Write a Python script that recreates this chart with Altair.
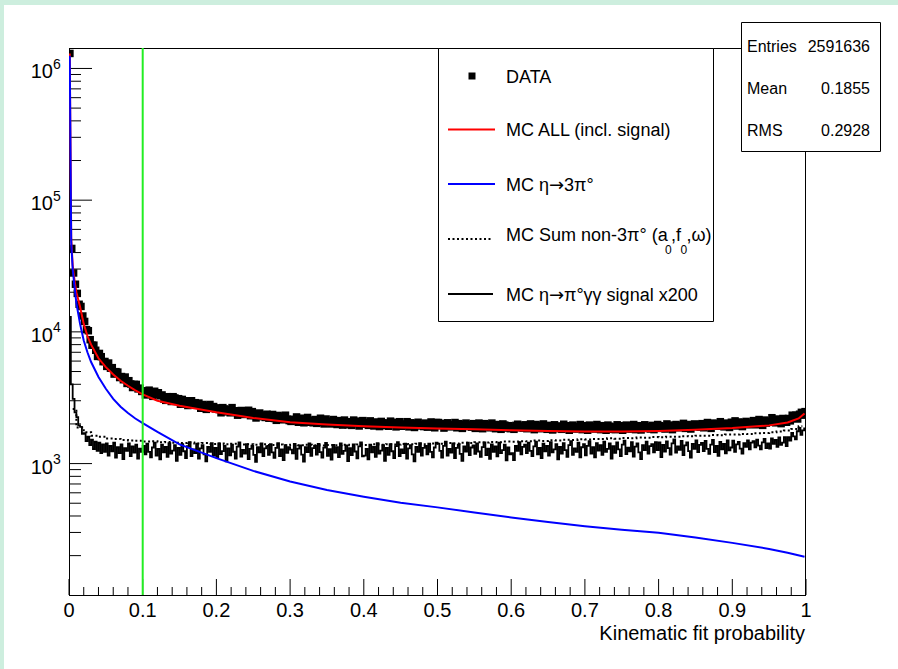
import altair as alt
import numpy as np
import pandas as pd

FONT = "Liberation Sans"

# ---------------- values ----------------
N_FINE = 400     # bins used for DATA and for the x200 signal
N_COARSE = 100   # bins used for the non-3pi0 sum

DATA_COUNTS = [
    1300000, 43000, 28000, 23000, 19600, 16200, 15600, 13200, 12000, 10400,
    10200, 8720, 7920, 7930, 7250, 6510, 6860, 6480, 5940, 5960,
    5470, 5800, 5300, 5350, 4780, 4990, 4950, 4500, 4580, 4330,
    4540, 4060, 4260, 4020, 3780, 3990, 3990, 3690, 3740, 3530,
    3570, 3320, 3480, 3610, 3360, 3240, 3540, 3360, 3450, 3270,
    3320, 3090, 3020, 3220, 3120, 2960, 3220, 3150, 2990, 3110,
    2820, 3070, 2890, 3000, 2760, 2950, 3000, 2790, 2900, 2810,
    2880, 2630, 2810, 2690, 2580, 2760, 2810, 2640, 2710, 2600,
    2650, 2570, 2430, 2660, 2600, 2470, 2570, 2430, 2660, 2500,
    2520, 2330, 2490, 2530, 2360, 2450, 2370, 2540, 2310, 2480,
    2320, 2220, 2380, 2420, 2270, 2340, 2240, 2370, 2210, 2320,
    2360, 2200, 2130, 2320, 2210, 2270, 2150, 2330, 2170, 2120,
    2090, 2170, 2110, 2260, 2060, 2210, 2130, 2040, 2190, 2240,
    2060, 2120, 2040, 2160, 2020, 2120, 2210, 2060, 2000, 2180,
    2040, 2100, 2000, 2160, 2020, 1980, 2120, 2060, 1960, 2140,
    2080, 1970, 2060, 1950, 2140, 2010, 2100, 1930, 2080, 2120,
    1990, 2050, 1950, 2110, 1970, 1930, 2070, 2010, 1910, 2090,
    2040, 1940, 2020, 1920, 2100, 1980, 2060, 1900, 2040, 2080,
    1920, 2000, 1940, 2080, 1900, 2040, 1960, 1880, 2020, 2060,
    1930, 1990, 1910, 2030, 1890, 1990, 2070, 1930, 1870, 2050,
    2050, 1940, 2020, 1860, 2000, 2040, 1900, 1970, 1920, 2050,
    1870, 2010, 1930, 1850, 1990, 2030, 1910, 1970, 1890, 2010,
    1850, 1950, 2030, 1890, 1840, 2010, 1910, 1970, 1870, 2030,
    1880, 1840, 1980, 1920, 1820, 2000, 1960, 1860, 1940, 1840,
    1890, 1820, 1950, 1990, 1870, 1930, 1860, 1970, 1840, 1930,
    2000, 1860, 1810, 1980, 1880, 1940, 1840, 2000, 1860, 1820,
    1950, 1890, 1800, 1970, 1930, 1840, 1910, 1820, 1990, 1870,
    1940, 1790, 1930, 1960, 1830, 1910, 1850, 1980, 1810, 1940,
    1850, 1790, 1960, 1860, 1920, 1830, 1980, 1850, 1810, 1940,
    1880, 1790, 1960, 1920, 1820, 1900, 1810, 1970, 1860, 1940,
    1790, 1920, 1960, 1830, 1900, 1840, 1980, 1810, 1940, 1860,
    1800, 1930, 1970, 1850, 1910, 1830, 1950, 1810, 1910, 1980,
    1940, 1850, 1920, 1830, 2000, 1890, 1960, 1810, 1940, 1980,
    1870, 1940, 1890, 2020, 1850, 1980, 1910, 1830, 1960, 2000,
    1910, 1970, 1890, 2010, 1870, 1970, 2050, 1910, 1850, 2030,
    1960, 2010, 1920, 2080, 1940, 1900, 2030, 1980, 1880, 2060,
    1970, 2110, 1930, 2070, 1990, 1910, 2050, 2090, 1970, 2030,
    1990, 2120, 1970, 2080, 2160, 2010, 1950, 2140, 2030, 2100,
    2060, 2230, 2080, 2040, 2180, 2120, 2010, 2200, 2160, 2060,
    2200, 2110, 2330, 2220, 2330, 2180, 2370, 2450, 2330, 2480,
]

SIGNAL_X200 = [
    13000, 4000, 3100, 2450, 2250, 1950, 1900, 1680, 1700, 1480,
    1600, 1380, 1520, 1290, 1470, 1250, 1440, 1200, 1400, 1230,
    1420, 1150, 1360, 1240, 1440, 1110, 1330, 1200, 1400, 1080,
    1310, 1250, 1420, 1140, 1350, 1210, 1390, 1090, 1300, 1230,
    1365, 1175, 1415, 1225, 1115, 1325, 1440, 1150, 1290, 1075,
    1390, 1215, 1340, 1125, 1430, 1190, 1255, 1380, 1050, 1315,
    1165, 1405, 1240, 1100, 1355, 1455, 1140, 1280, 1200, 1415,
    1090, 1305, 1380, 1175, 1040, 1340, 1225, 1430, 1150, 1315,
    1115, 1420, 1180, 1245, 1370, 1040, 1305, 1155, 1395, 1230,
    1090, 1345, 1445, 1130, 1270, 1190, 1405, 1080, 1295, 1370,
    1165, 1030, 1330, 1215, 1420, 1140, 1305, 1355, 1165, 1405,
    1215, 1105, 1315, 1430, 1140, 1280, 1065, 1380, 1205, 1330,
    1275, 1195, 1410, 1085, 1300, 1375, 1170, 1035, 1335, 1220,
    1425, 1145, 1310, 1360, 1170, 1410, 1220, 1110, 1320, 1435,
    1145, 1285, 1070, 1385, 1210, 1335, 1120, 1425, 1185, 1250,
    1375, 1045, 1310, 1160, 1400, 1235, 1095, 1350, 1450, 1135,
    1150, 1290, 1075, 1390, 1215, 1340, 1125, 1430, 1190, 1255,
    1380, 1050, 1315, 1165, 1405, 1240, 1100, 1355, 1455, 1140,
    1280, 1200, 1415, 1090, 1305, 1380, 1175, 1040, 1340, 1225,
    1430, 1150, 1315, 1365, 1175, 1415, 1225, 1115, 1325, 1440,
    1415, 1250, 1110, 1365, 1465, 1150, 1290, 1210, 1425, 1100,
    1315, 1390, 1185, 1050, 1350, 1235, 1440, 1160, 1325, 1375,
    1185, 1425, 1235, 1125, 1335, 1450, 1160, 1300, 1085, 1400,
    1225, 1350, 1135, 1440, 1200, 1265, 1390, 1060, 1325, 1175,
    1200, 1065, 1365, 1250, 1455, 1175, 1340, 1390, 1200, 1440,
    1250, 1140, 1350, 1465, 1175, 1315, 1100, 1415, 1240, 1365,
    1150, 1455, 1215, 1280, 1405, 1075, 1340, 1190, 1430, 1265,
    1125, 1380, 1480, 1165, 1305, 1225, 1440, 1115, 1330, 1405,
    1155, 1365, 1480, 1190, 1330, 1115, 1430, 1255, 1380, 1165,
    1470, 1230, 1295, 1420, 1090, 1355, 1205, 1445, 1280, 1140,
    1395, 1495, 1180, 1320, 1240, 1455, 1130, 1345, 1420, 1215,
    1080, 1380, 1265, 1470, 1190, 1355, 1405, 1215, 1455, 1265,
    1450, 1120, 1385, 1235, 1475, 1310, 1170, 1425, 1525, 1210,
    1350, 1270, 1485, 1160, 1375, 1450, 1245, 1110, 1410, 1295,
    1500, 1220, 1385, 1435, 1245, 1485, 1295, 1185, 1395, 1510,
    1220, 1360, 1145, 1460, 1285, 1410, 1195, 1500, 1260, 1325,
    1490, 1230, 1400, 1460, 1300, 1190, 1430, 1340, 1500, 1280,
    1440, 1480, 1330, 1520, 1370, 1280, 1450, 1540, 1310, 1420,
    1300, 1550, 1410, 1510, 1340, 1580, 1390, 1440, 1590, 1355,
    1590, 1495, 1710, 1610, 1530, 1760, 1870, 1650, 1790, 1850,
]

NON3PI_SUM = [
    2600, 1880, 1730, 1630, 1600, 1550, 1540, 1510, 1500, 1490,
    1470, 1480, 1450, 1460, 1440, 1430, 1445, 1420, 1430, 1410,
    1420, 1400, 1415, 1395, 1405, 1390, 1400, 1385, 1395, 1380,
    1390, 1375, 1390, 1380, 1370, 1385, 1375, 1390, 1380, 1395,
    1385, 1400, 1390, 1405, 1395, 1410, 1400, 1415, 1405, 1420,
    1415, 1430, 1420, 1440, 1430, 1450, 1445, 1460, 1455, 1470,
    1465, 1480, 1475, 1495, 1485, 1505, 1500, 1515, 1510, 1530,
    1525, 1540, 1535, 1555, 1545, 1565, 1560, 1575, 1570, 1590,
    1585, 1600, 1595, 1615, 1610, 1630, 1625, 1645, 1640, 1660,
    1660, 1680, 1675, 1700, 1710, 1730, 1750, 1780, 1830, 1920,
]

MC_ALL_X = [0.001, 0.003, 0.005, 0.0075, 0.01, 0.015, 0.02, 0.025, 0.03, 0.04,
            0.05, 0.06, 0.07, 0.08, 0.09, 0.1, 0.12, 0.15, 0.2, 0.25, 0.3,
            0.35, 0.4, 0.45, 0.5, 0.55, 0.6, 0.65, 0.7, 0.75, 0.8, 0.85, 0.9,
            0.95, 0.975, 0.99, 0.998]
MC_ALL_Y = [1300000, 51000, 32000, 24500, 20000, 15500, 11500, 9300, 8000, 6300,
            5400, 4750, 4250, 3900, 3600, 3350, 3000, 2750, 2450, 2220, 2060,
            1980, 1920, 1880, 1850, 1820, 1790, 1765, 1750, 1750, 1770, 1805, 1860,
            1950, 2050, 2200, 2400]

ETA3PI_X = [0.001, 0.003, 0.005, 0.0075, 0.01, 0.015, 0.02, 0.025, 0.03, 0.04,
            0.05, 0.06, 0.07, 0.08, 0.09, 0.1, 0.12, 0.15, 0.2, 0.25, 0.3,
            0.35, 0.4, 0.45, 0.5, 0.55, 0.6, 0.65, 0.7, 0.75, 0.8, 0.85, 0.9,
            0.95, 0.975, 0.998]
ETA3PI_Y = [1250000, 48000, 30000, 22000, 16500, 11500, 8600, 7000, 5900, 4550,
            3700, 3100, 2700, 2420, 2200, 2030, 1740, 1400, 1100, 880, 730,
            630, 560, 505, 465, 425, 390, 360, 335, 315, 298, 275, 250,
            225, 210, 196]

CUT_X = [0.1]

Y_MAJOR = [1e3, 1e4, 1e5, 1e6]
Y_EXP = ["3", "4", "5", "6"]
Y_MINOR = [200, 300, 400, 500, 600, 700, 800, 900,
           2000, 3000, 4000, 5000, 6000, 7000, 8000, 9000,
           20000, 30000, 40000, 50000, 60000, 70000, 80000, 90000,
           200000, 300000, 400000, 500000, 600000, 700000, 800000, 900000]
X_MAJOR = [0.0, 0.1, 0.2, 0.3, 0.4, 0.5, 0.6, 0.7, 0.8, 0.9, 1.0]
X_LABELS = ["0", "0.1", "0.2", "0.3", "0.4", "0.5", "0.6", "0.7", "0.8", "0.9", "1"]
X_MINOR = [round(0.02 * k, 2) for k in range(51) if k % 5 != 0]

X_TITLE = "Kinematic fit probability"
LEG_DATA = "DATA"
LEG_ALL = "MC ALL (incl. signal)"
LEG_ETA_HEAD = "MC η"
LEG_ARROW = "→"
LEG_3PI_TAIL = "3π°"
LEG_NON_A = "MC Sum non-3π° (a"
LEG_NON_SUB = "0"
LEG_NON_B = ",f"
LEG_NON_C = ",ω)"
LEG_SIG_TAIL = "π°γγ signal x200"
STATS_NAMES = ["Entries", "Mean", "RMS"]
STATS_VALUES = ["2591636", "0.1855", "0.2928"]

# ---------------- tables ----------------
fine_x = (np.arange(N_FINE) + 0.5) / N_FINE
coarse_x = (np.arange(N_COARSE) + 0.5) / N_COARSE
df_data = pd.DataFrame({"x": fine_x, "y": DATA_COUNTS})
df_sig = pd.DataFrame({"x": fine_x, "y": SIGNAL_X200})
df_non = pd.DataFrame({"x": coarse_x, "y": NON3PI_SUM})
df_all = pd.DataFrame({"x": MC_ALL_X, "y": MC_ALL_Y})
df_eta = pd.DataFrame({"x": ETA3PI_X, "y": ETA3PI_Y})
df_cut = pd.DataFrame({"v": CUT_X})
df_ymaj = pd.DataFrame({"v": Y_MAJOR, "e": Y_EXP})
df_ymin = pd.DataFrame({"v": Y_MINOR})
df_xmaj = pd.DataFrame({"v": X_MAJOR, "t": X_LABELS})
df_xmin = pd.DataFrame({"v": X_MINOR})
ONE = pd.DataFrame({"k": [0]})

W, H = 737, 547
xs = alt.Scale(domain=[0, 1], nice=False, zero=False)
ys = alt.Scale(type="log", domain=[100.5, 1.43e6], nice=False)


def X(f="x"):
    return alt.X(f"{f}:Q", scale=xs, axis=None)


def Y(f="y"):
    return alt.Y(f"{f}:Q", scale=ys, axis=None)


def seg(x1, x2, y1, y2, color="black", width=1, dash=None):
    kw = dict(color=color, strokeWidth=width)
    if dash is not None:
        kw["strokeDash"] = dash
    return alt.Chart(ONE).mark_rule(**kw).encode(
        x=alt.value(x1), x2=alt.value(x2), y=alt.value(y1), y2=alt.value(y2))


def txt(s, x, y, size, align="left", baseline="middle", font=FONT):
    return alt.Chart(ONE).mark_text(text=s, font=font, fontSize=size, align=align,
                                    baseline=baseline, color="black").encode(
        x=alt.value(x), y=alt.value(y))


layers = []
# white canvas inside the mint page border
layers.append(alt.Chart(ONE).mark_rect(color="white").encode(
    x=alt.value(-65), x2=alt.value(829), y=alt.value(-43), y2=alt.value(621)))

# frame and axes
layers.append(seg(0.5, 0.5, 0, 547.5))
layers.append(seg(0, 737, 547.5, 547.5))
layers.append(seg(0, 672, 0.5, 0.5))
layers.append(seg(736.5, 736.5, 103.5, 547.5))

# inward ticks
layers.append(alt.Chart(df_ymaj).mark_rule(color="black").encode(
    y=Y("v"), x=alt.value(0), x2=alt.value(23)))
layers.append(alt.Chart(df_ymin).mark_rule(color="black").encode(
    y=Y("v"), x=alt.value(0), x2=alt.value(12)))
layers.append(alt.Chart(df_xmaj).mark_rule(color="black").encode(
    x=X("v"), y=alt.value(547), y2=alt.value(531)))
layers.append(alt.Chart(df_xmin).mark_rule(color="black").encode(
    x=X("v"), y=alt.value(547), y2=alt.value(539)))

# tick labels
layers.append(alt.Chart(df_ymaj).mark_text(text="10", font=FONT, fontSize=20, align="right",
                                           baseline="middle", dy=4, color="black").encode(
    y=Y("v"), x=alt.value(-16)))
layers.append(alt.Chart(df_ymaj).mark_text(font=FONT, fontSize=14, align="left",
                                           baseline="middle", dy=-3.5, color="black").encode(
    y=Y("v"), x=alt.value(-16), text="e:N"))
layers.append(alt.Chart(df_xmaj).mark_text(font=FONT, fontSize=20, align="center",
                                           baseline="alphabetic", color="black").encode(
    x=X("v"), y=alt.value(569), text="t:N"))
layers.append(txt(X_TITLE, 736, 592, 20, align="right", baseline="alphabetic"))

# histograms
layers.append(alt.Chart(df_data).mark_square(size=56, color="black", opacity=1, clip=True).encode(
    x=X(), y=Y()))
layers.append(alt.Chart(df_all).mark_line(color="#ff0000", strokeWidth=2, clip=True).encode(
    x=X(), y=Y()))
layers.append(alt.Chart(df_non).mark_line(color="black", strokeWidth=2, strokeDash=[2, 2.5],
                                          interpolate="step", clip=True).encode(x=X(), y=Y()))
layers.append(alt.Chart(df_sig).mark_line(color="black", strokeWidth=1.8, interpolate="step",
                                          clip=True).encode(x=X(), y=Y()))
layers.append(alt.Chart(df_eta).mark_line(color="#0000ff", strokeWidth=2, clip=True).encode(
    x=X(), y=Y()))

# cut line
layers.append(alt.Chart(df_cut).mark_rule(color="#22ee22", strokeWidth=2).encode(
    x=X("v"), y=alt.value(0), y2=alt.value(547)))

# legend box
layers.append(alt.Chart(ONE).mark_rect(fill="white", stroke="black", strokeWidth=1).encode(
    x=alt.value(369.5), x2=alt.value(644.5), y=alt.value(0.5), y2=alt.value(273.5)))
layers.append(alt.Chart(ONE).mark_square(size=49, color="black", opacity=1).encode(
    x=alt.value(403), y=alt.value(28)))
layers.append(seg(379, 426, 81.5, 81.5, color="#ff0000", width=2))
layers.append(seg(379, 426, 136, 136, color="#0000ff", width=2))
layers.append(seg(379, 422, 191, 191, color="black", width=2, dash=[2, 2.5]))
layers.append(seg(379, 424, 246, 246, color="black", width=2))

LX = 437
ARROW_X = LX + 43
TAIL_X = ARROW_X + 15
layers.append(txt(LEG_DATA, LX, 29.8, 18))
layers.append(txt(LEG_ALL, LX, 83.2, 18))
layers.append(txt(LEG_ETA_HEAD, LX, 137.5, 18))
layers.append(txt(LEG_ARROW, ARROW_X, 137.5, 18, font="DejaVu Sans"))
layers.append(txt(LEG_3PI_TAIL, TAIL_X, 137.5, 18))
layers.append(txt(LEG_NON_A, LX, 187.5, 18))
layers.append(txt(LEG_NON_SUB, 596, 201.5, 12))
layers.append(txt(LEG_NON_B, 602, 187.5, 18))
layers.append(txt(LEG_NON_SUB, 611.5, 201.5, 12))
layers.append(txt(LEG_NON_C, 617.5, 187.5, 18))
layers.append(txt(LEG_ETA_HEAD, LX, 247.5, 18))
layers.append(txt(LEG_ARROW, ARROW_X, 247.5, 18, font="DejaVu Sans"))
layers.append(txt(LEG_SIG_TAIL, TAIL_X, 247.5, 18))

# statistics box
layers.append(alt.Chart(ONE).mark_rect(fill="white", stroke="black", strokeWidth=1).encode(
    x=alt.value(672.5), x2=alt.value(811.5), y=alt.value(-25.5), y2=alt.value(103.5)))
for name, val, yy in zip(STATS_NAMES, STATS_VALUES, [-1.3, 40.7, 82.7]):
    layers.append(txt(name, 678, yy, 16))
    layers.append(txt(val, 801, yy, 16, align="right"))

chart = alt.layer(*layers).properties(
    width=W, height=H,
    padding={"left": 69, "top": 48, "right": 92, "bottom": 74},
    autosize=alt.AutoSizeParams(type="none"),
    background="#cdeede",
).configure_view(stroke="transparent")

chart.save("out.html", embed_options={"renderer": "svg", "actions": False})
